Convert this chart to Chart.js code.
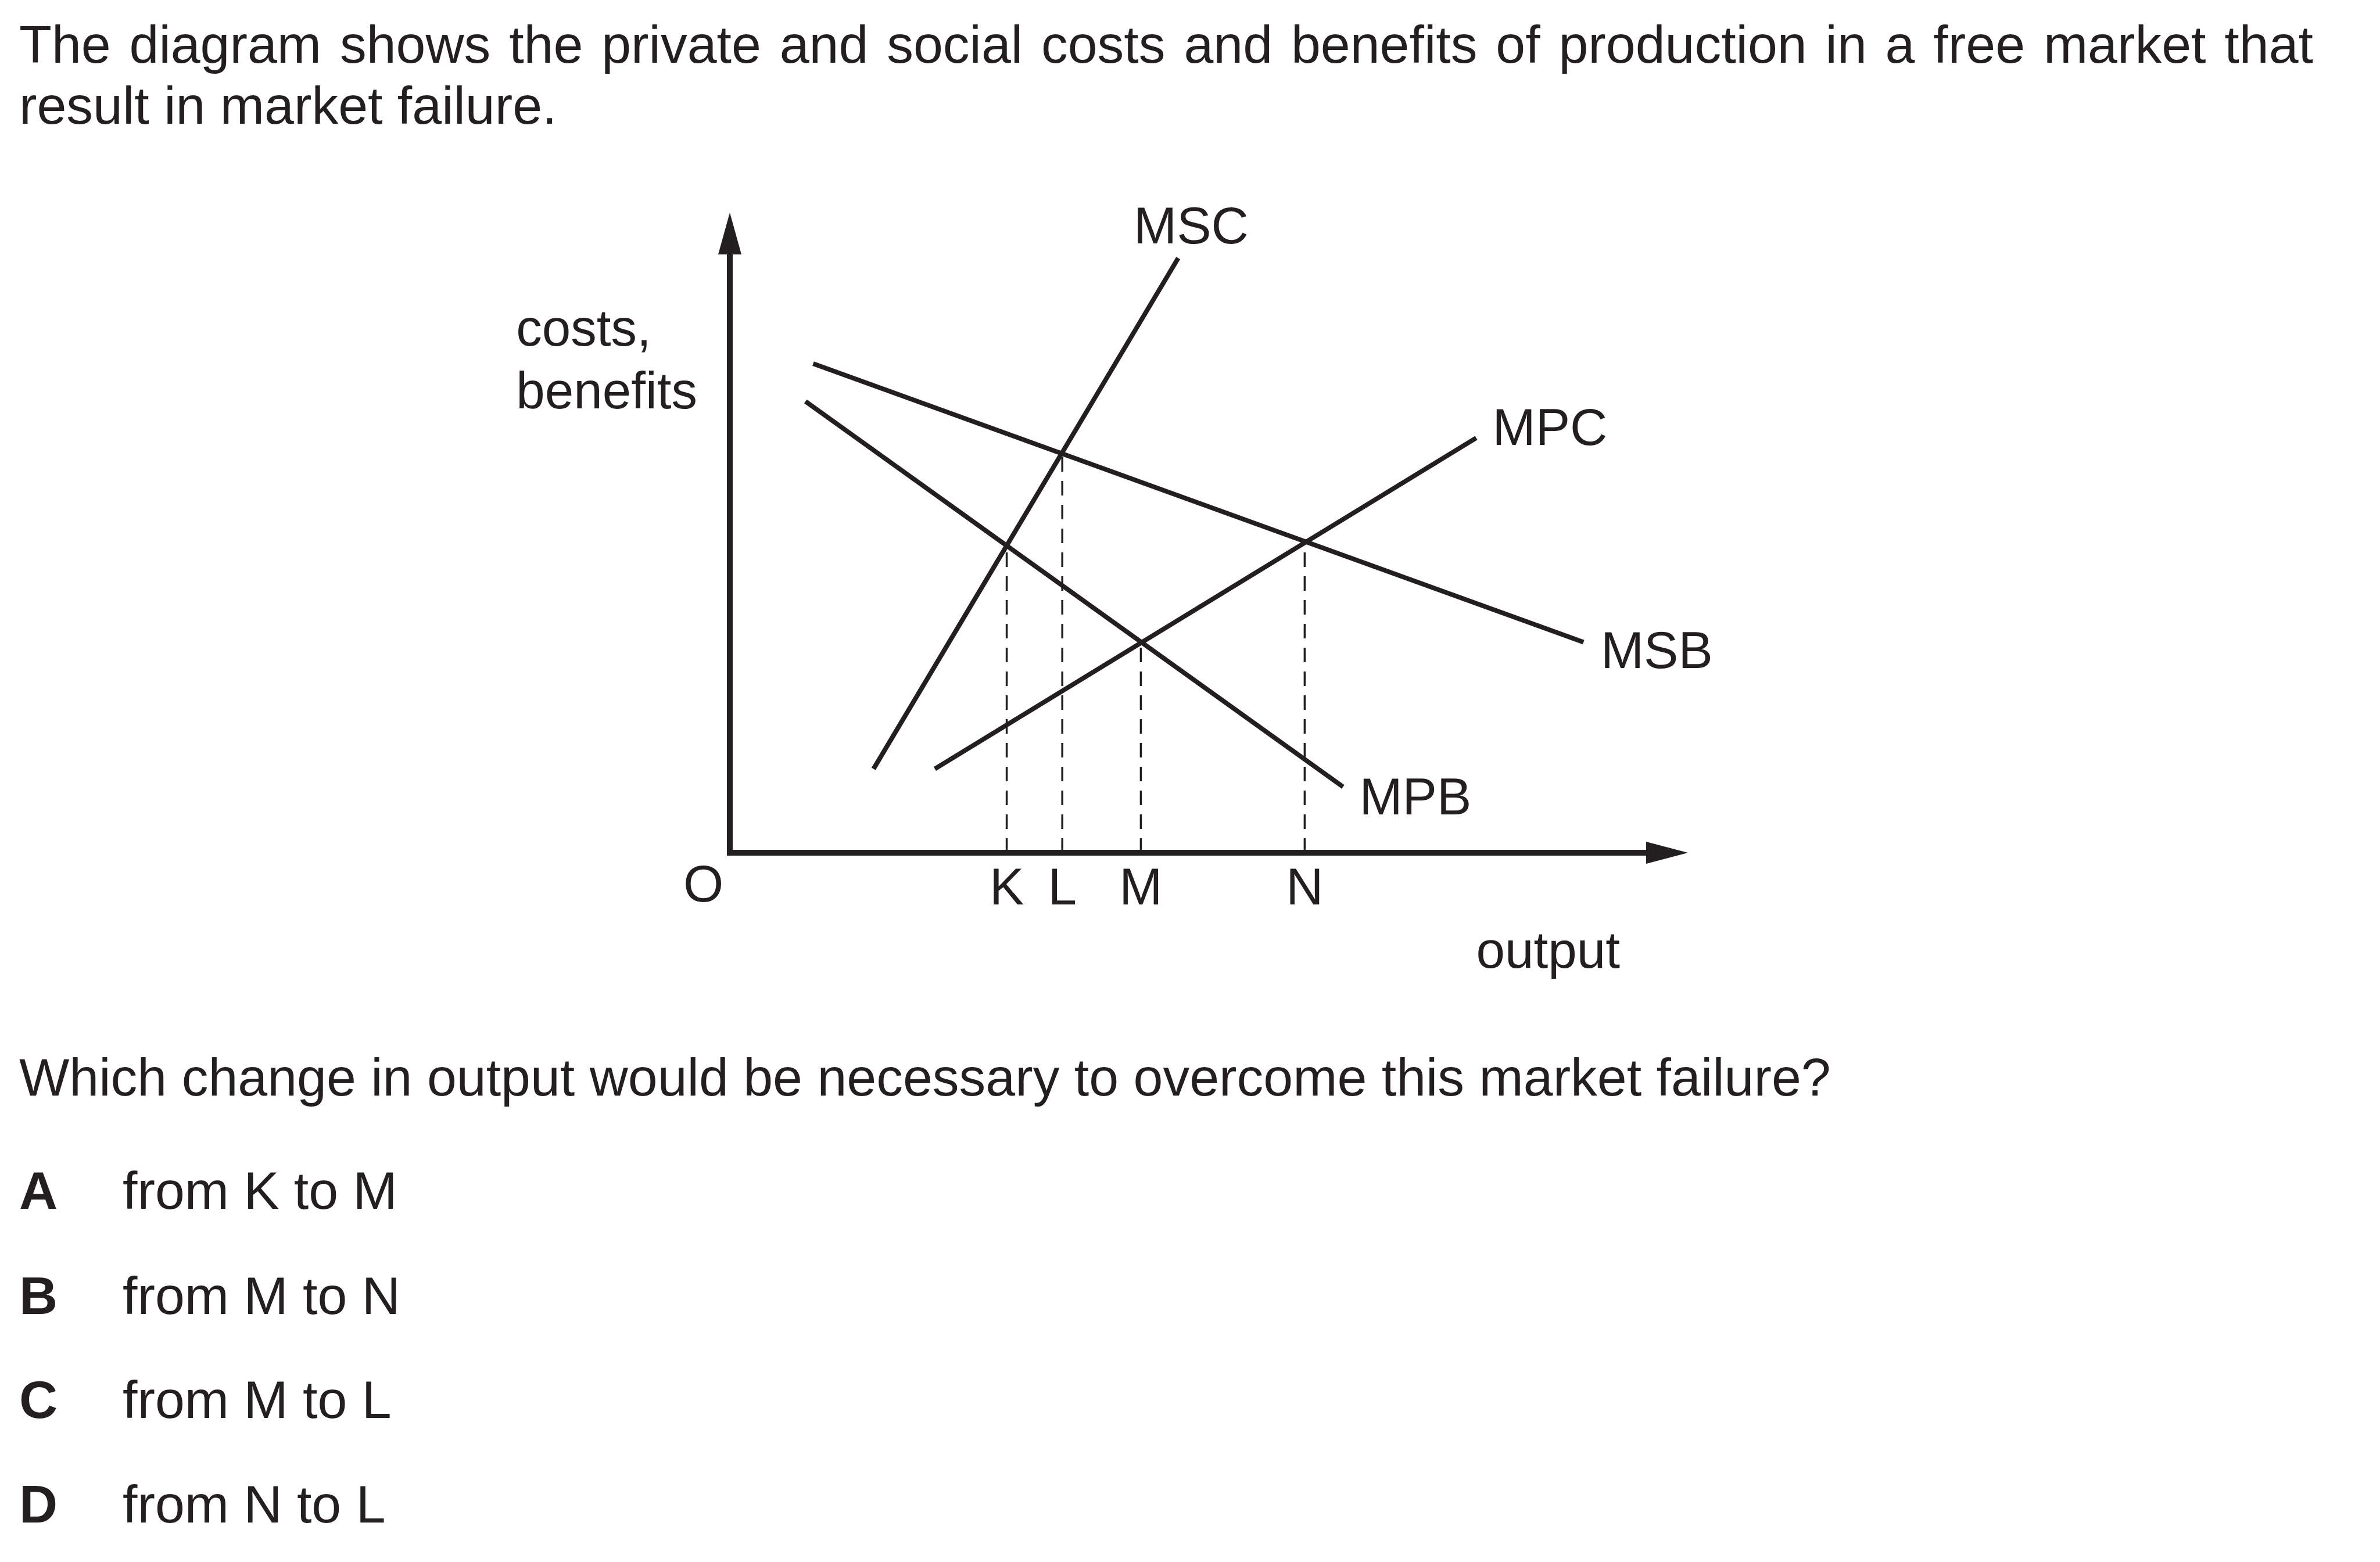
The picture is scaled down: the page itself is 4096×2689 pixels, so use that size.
<!DOCTYPE html>
<html>
<head>
<meta charset="utf-8">
<script src="https://cdn.jsdelivr.net/npm/chart.js@4.4.1/dist/chart.umd.min.js"></script>
<style>
  html, body { margin: 0; padding: 0; background: #fff; }
  body {
    width: 4096px; height: 2689px; position: relative; overflow: hidden;
    font-family: "Liberation Sans", Arial, sans-serif; color: #231f20;
  }
  #chart { position: absolute; left: 0; top: 0; }
  .txt { position: absolute; font-size: 91.5px; line-height: 105px; white-space: nowrap; }
  #intro { left: 33px; top: 24px; width: 3948px; white-space: normal; text-align: justify; }
  .opt b { position: absolute; left: 0; }
  .opt span { position: absolute; left: 178px; }
</style>
</head>
<body>
<div class="txt" id="intro">The diagram shows the private and social costs and benefits of production in a free market that result in market failure.</div>
<canvas id="chart" width="4096" height="2689"></canvas>
<div class="txt" style="left:33px; top:1802px;">Which change in output would be necessary to overcome this market failure?</div>
<div class="txt opt" style="left:33px; top:1997px;"><b>A</b><span>from K to M</span></div>
<div class="txt opt" style="left:33px; top:2178px;"><b>B</b><span>from M to N</span></div>
<div class="txt opt" style="left:33px; top:2357px;"><b>C</b><span>from M to L</span></div>
<div class="txt opt" style="left:33px; top:2537px;"><b>D</b><span>from N to L</span></div>
<script>
// curve end points: [output, cost/benefit]
const msc = [[15.0, 13.1], [46.8, 92.9]];
const mpc = [[21.4, 13.1], [77.9, 64.8]];
const msb = [[8.7, 76.4], [89.1, 32.9]];
const mpb = [[7.9, 70.5], [64.0, 10.3]];

// output levels marked on the x axis
const markLabels = ['K', 'L', 'M', 'N'];
const markOutput = [28.9, 34.7, 42.9, 60.0];
const markHeight = [47.9, 62.4, 32.8, 48.5];

const ink = '#231f20';
const labelFont = '89px "Liberation Sans", Arial, sans-serif';

// where the text labels go (data coords)
const textSpots = [
  { t: 'costs,', x: -22.3, y: 79.2 },
  { t: 'benefits', x: -22.3, y: 69.4 },
  { t: 'MSC', x: 42.15, y: 95.2 },
  { t: 'MPC', x: 79.6, y: 63.7 },
  { t: 'MSB', x: 90.9, y: 28.9 },
  { t: 'MPB', x: 65.7, y: 6.0 },
  { t: 'O', x: -4.85, y: -7.6 },
  { t: 'output', x: 77.9, y: -18.0 }
];

const toPts = arr => arr.map(p => ({ x: p[0], y: p[1] }));

const curveSet = (label, pts) => ({
  label: label,
  data: toPts(pts),
  borderColor: ink,
  borderWidth: 8,
  pointRadius: 0,
  tension: 0,
  fill: false
});

const dashSets = markLabels.map((lab, i) => ({
  label: lab,
  data: [{ x: markOutput[i], y: 0 }, { x: markOutput[i], y: markHeight[i] }],
  borderColor: ink,
  borderWidth: 3.5,
  borderDash: [25, 16],
  pointRadius: 0,
  tension: 0,
  fill: false
}));

const axesAndText = {
  id: 'axesAndText',
  afterDatasetsDraw(chart) {
    const ctx = chart.ctx;
    const xs = chart.scales.x, ys = chart.scales.y;
    const x0 = xs.getPixelForValue(0), y0 = ys.getPixelForValue(0);
    const xEnd = xs.getPixelForValue(100), yEnd = ys.getPixelForValue(100);
    const head = 72, half = 20;
    ctx.save();
    ctx.strokeStyle = ink;
    ctx.fillStyle = ink;
    ctx.lineWidth = 10;
    ctx.lineCap = 'butt';
    ctx.beginPath();
    ctx.moveTo(x0, yEnd + head);
    ctx.lineTo(x0, y0);
    ctx.moveTo(x0 - 5, y0);
    ctx.lineTo(xEnd - head, y0);
    ctx.stroke();
    // arrow heads
    ctx.beginPath();
    ctx.moveTo(x0, yEnd);
    ctx.lineTo(x0 - half, yEnd + head);
    ctx.lineTo(x0 + half, yEnd + head);
    ctx.closePath();
    ctx.fill();
    ctx.beginPath();
    ctx.moveTo(xEnd, y0);
    ctx.lineTo(xEnd - head, y0 - 19);
    ctx.lineTo(xEnd - head, y0 + 19);
    ctx.closePath();
    ctx.fill();

    ctx.font = labelFont;
    ctx.textBaseline = 'alphabetic';
    ctx.textAlign = 'left';
    textSpots.forEach(s => {
      ctx.fillText(s.t, xs.getPixelForValue(s.x), ys.getPixelForValue(s.y));
    });
    ctx.textAlign = 'center';
    markLabels.forEach((lab, i) => {
      ctx.fillText(lab, xs.getPixelForValue(markOutput[i]), ys.getPixelForValue(-8.1));
    });
    ctx.restore();
  }
};

new Chart(document.getElementById('chart'), {
  type: 'line',
  data: {
    datasets: [
      curveSet('MSC', msc),
      curveSet('MPC', mpc),
      curveSet('MSB', msb),
      curveSet('MPB', mpb),
      ...dashSets
    ]
  },
  options: {
    responsive: false,
    devicePixelRatio: 1,
    animation: false,
    layout: { padding: { left: 1256, right: 1191, top: 366, bottom: 1221 } },
    scales: {
      x: { type: 'linear', min: 0, max: 100, display: false },
      y: { type: 'linear', min: 0, max: 100, display: false }
    },
    plugins: {
      legend: { display: false },
      title: { display: false },
      tooltip: { enabled: false }
    }
  },
  plugins: [axesAndText]
});
</script>
</body>
</html>
